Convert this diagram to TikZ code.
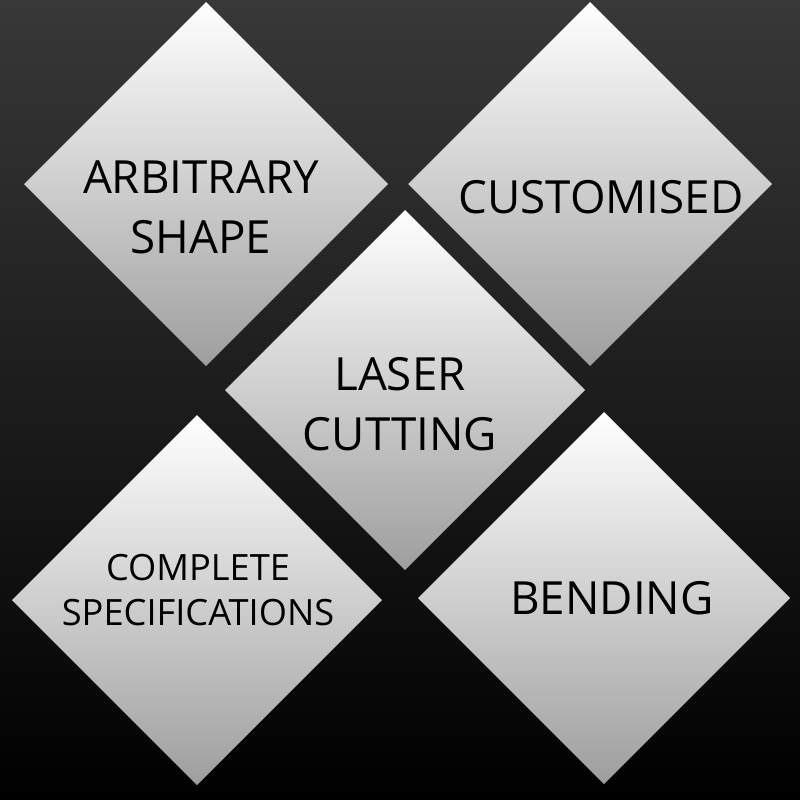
\documentclass[tikz,border=0pt]{standalone}
\usepackage{fontspec}
\setmainfont{Open Sans}
\tikzset{
  tile/.style={top color=white, bottom color=black!38, draw=none},
  tag/.style={font=\fontsize{13}{17}\selectfont, text=black, align=center},
  small tag/.style={font=\fontsize{10.3}{13}\selectfont, text=black, align=center}
}
% diamond tile: centre x, centre y, half diagonal
\newcommand{\tiled}[3]{\fill[tile] (#1,#2-#3) -- (#1+#3,#2) -- (#1,#2+#3) -- (#1-#3,#2) -- cycle;}
\begin{document}
\begin{tikzpicture}[x=0.01cm,y=-0.01cm]
    \useasboundingbox (0,0) rectangle (800,800);
    % background
    \shade[top color=black!78, bottom color=black] (0,0) rectangle (800,800);
    % tiles
    \tiled{405}{390}{180}
    \tiled{206}{184}{182}
    \tiled{590}{184}{182}
    \tiled{197}{600}{185}
    \tiled{604}{598}{186}
    % labels
    \node[tag] (arb) at (201,207) {ARBITRARY\\SHAPE};
    \node[tag] (cus) at (601,197) {CUSTOMISED};
    \node[tag] (las) at (400,404) {LASER\\CUTTING};
    \node[small tag] (com) at (198,590) {COMPLETE\\SPECIFICATIONS};
    \node[tag] (ben) at (612,598) {BENDING};
\end{tikzpicture}
\end{document}
